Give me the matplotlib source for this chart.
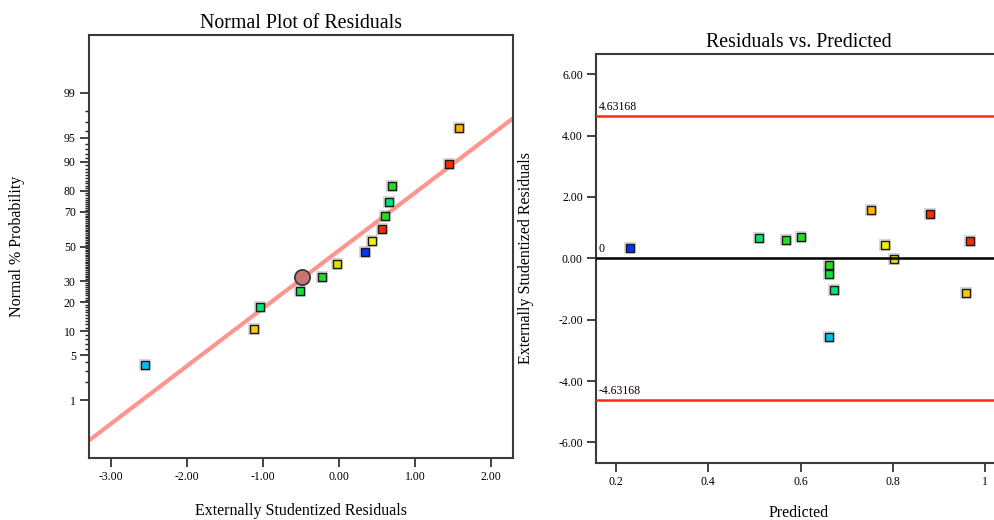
import matplotlib
matplotlib.use("Agg")
import matplotlib.pyplot as plt
import numpy as np
from statistics import NormalDist

plt.rcParams['font.family'] = ['Liberation Serif', 'DejaVu Serif']

# Run data: predicted value, externally studentized residual, normal % rank, point colour
predicted = [0.231, 0.509, 0.569, 0.601, 0.753, 0.880, 0.783, 0.803, 0.966, 0.662, 0.662, 0.673, 0.959, 0.662]
residuals = [0.34, 0.66, 0.60, 0.70, 1.58, 1.45, 0.43, -0.02, 0.57, -0.22, -0.51, -1.04, -1.12, -2.55]
normal_pct = [46.4, 75.0, 67.9, 82.1, 96.4, 89.3, 53.6, 39.3, 60.7, 32.1, 25.0, 17.9, 10.7, 3.6]
point_colors = ['#0a34f2', '#00e676', '#22dd22', '#22dd22', '#ffb400', '#ff2a00', '#f2f200',
                '#e0e000', '#ff2a00', '#22dd22', '#14e03a', '#00e676', '#ffc800', '#00bff5']

# Normal reference line (mean, sd) and the highlighted point on it
line_mu, line_sd = 0.07, 1.145
highlight_resid, highlight_pct = -0.48, 32.1

# Outlier limits for the residual plot
t_limit = 4.63168

prob_ticks = [1, 5, 10, 20, 30, 50, 70, 80, 90, 95, 99]
prob_minor = list(range(1, 100))
resid_ticks_x = [-3, -2, -1, 0, 1, 2]
resid_ticks_y = [-6, -4, -2, 0, 2, 4, 6]
pred_ticks = [0.2, 0.4, 0.6, 0.8, 1.0]
pred_labels = ['0.2', '0.4', '0.6', '0.8', '1']

nd = NormalDist()


def prob_fwd(p):
    p = np.clip(np.asarray(p, dtype=float) / 100.0, 1e-9, 1 - 1e-9)
    return np.vectorize(nd.inv_cdf)(p)


def prob_inv(z):
    return np.vectorize(nd.cdf)(np.asarray(z, dtype=float)) * 100.0


fig = plt.figure(figsize=(9.95, 5.2), dpi=100)
ax1 = fig.add_axes([0.0894, 0.1192, 0.4261, 0.8135])
ax2 = fig.add_axes([0.599, 0.1102, 0.408, 0.786])

spine_col = '#3a3a3a'
for ax in (ax1, ax2):
    for s in ax.spines.values():
        s.set_color(spine_col)
        s.set_linewidth(1.5)
    ax.tick_params(which='major', direction='out', length=6.5, width=1.2,
                   color='#222222', labelsize=8.5, pad=3)
    ax.tick_params(which='minor', direction='out', length=3, width=1.0, color='#222222')
    ax.tick_params(top=False, right=False)


def draw_points(ax, xs, ys):
    for x, y, c in zip(xs, ys, point_colors):
        ax.plot(x, y, marker='s', ms=8, color='#9a9a9a', alpha=0.4, mew=0, zorder=4)
        ax.plot(x, y, marker='s', ms=6, mfc=c, mec='#1a1a1a', mew=1.0, zorder=5)


# ---- Normal plot of residuals ----
ax1.set_yscale('function', functions=(prob_fwd, prob_inv))
ax1.set_xlim(-3.29, 2.29)
ax1.set_ylim(0.0687, 99.9313)

xl = np.linspace(-3.29, 2.29, 50)
ax1.plot(xl, prob_inv((xl - line_mu) / line_sd), color='#ff958c', lw=3, zorder=2,
         solid_capstyle='butt')
draw_points(ax1, residuals, normal_pct)
ax1.plot(highlight_resid, highlight_pct, marker='o', ms=11, mfc='#c87472', mec='#333333',
         mew=1.2, zorder=6)

ax1.set_xticks(resid_ticks_x)
ax1.set_xticklabels([f'{v:.2f}' for v in resid_ticks_x])
ax1.set_yticks(prob_ticks)
ax1.set_yticklabels([str(v) for v in prob_ticks])
ax1.set_yticks(prob_minor, minor=True)
ax1.yaxis.set_minor_formatter(plt.NullFormatter())
ax1.xaxis.set_minor_locator(plt.NullLocator())

ax1.set_title('Normal Plot of Residuals', fontsize=14.3, pad=5)
ax1.set_xlabel('Externally Studentized Residuals', fontsize=11.5)
ax1.set_ylabel('Normal % Probability', fontsize=11.5)
ax1.xaxis.set_label_coords(0.5, -0.106)
ax1.yaxis.set_label_coords(-0.151, 0.5)

# ---- Residuals vs. predicted ----
ax2.set_xlim(0.1567, 1.036)
ax2.set_ylim(-6.66, 6.66)
ax2.spines['right'].set_visible(False)

ax2.axhline(t_limit, color='#ff2a10', lw=1.8, zorder=3)
ax2.axhline(-t_limit, color='#ff2a10', lw=1.8, zorder=3)
ax2.axhline(0, color='black', lw=1.8, zorder=6)
ax2.text(0.1627, t_limit + 0.12, f'{t_limit:g}', fontsize=8.5, va='bottom', ha='left')
ax2.text(0.1627, -t_limit + 0.12, f'{-t_limit:g}', fontsize=8.5, va='bottom', ha='left')
ax2.text(0.1627, 0.12, '0', fontsize=8.5, va='bottom', ha='left')

draw_points(ax2, predicted, residuals)

ax2.set_xticks(pred_ticks)
ax2.set_xticklabels(pred_labels)
ax2.set_yticks(resid_ticks_y)
ax2.set_yticklabels([f'{v:.2f}' for v in resid_ticks_y])

ax2.set_title('Residuals vs. Predicted', fontsize=14.3, pad=5)
ax2.set_xlabel('Predicted', fontsize=11.5)
ax2.set_ylabel('Externally Studentized Residuals', fontsize=11.5)
ax2.xaxis.set_label_coords(0.5, -0.1035)
ax2.yaxis.set_label_coords(-0.1527, 0.5)

fig.savefig('out.png', dpi=100)
